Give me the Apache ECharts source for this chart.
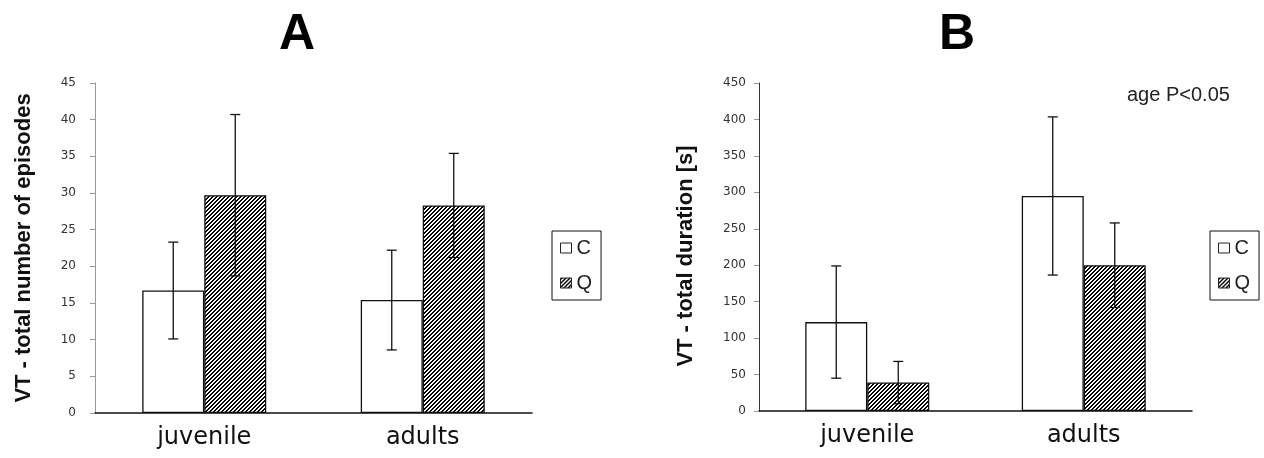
<!DOCTYPE html>
<html><head><meta charset="utf-8">
<script src="https://cdn.jsdelivr.net/npm/echarts@6/dist/echarts.min.js"></script>
<style>html,body{margin:0;padding:0;background:#fff}#c{width:1264px;height:458px}</style>
</head><body><div id="c"></div>
<script>
// ---- data ----
const categories = ['juvenile', 'adults'];
const seriesNames = ['C', 'Q'];
// Panel A: VT - total number of episodes
const episodesC = [16.7, 15.4];
const episodesCErr = [6.6, 6.8];
const episodesQ = [29.7, 28.3];
const episodesQErr = [11.0, 7.1];
// Panel B: VT - total duration [s]
const durationC = [122, 295];
const durationCErr = [77, 108.5];
const durationQ = [39, 200];
const durationQErr = [29, 58];
const ticksA = {min: 0, max: 45, interval: 5};
const ticksB = {min: 0, max: 450, interval: 50};

function hatch(period, black) {
  const c = document.createElement('canvas');
  c.width = period; c.height = period;
  const ctx = c.getContext('2d');
  ctx.fillStyle = '#fff'; ctx.fillRect(0, 0, period, period);
  ctx.fillStyle = '#000';
  for (let y = 0; y < period; y++)
    for (let x = 0; x < period; x++)
      if (((x + y) % period) < black) ctx.fillRect(x, y, 1, 1);
  return c;
}
const patA = {image: hatch(4, 2), repeat: 'repeat'};
const patB = {image: hatch(4, 2), repeat: 'repeat'};

const BAR_W = 62;
function errData(vals, errs) {
  return vals.map((v, i) => [i, v - errs[i], v + errs[i]]);
}
function errRender(sign) {
  return function (params, api) {
    const i = api.value(0), lo = api.value(1), hi = api.value(2);
    const pLo = api.coord([i, lo]), pHi = api.coord([i, hi]);
    const x = pLo[0] + sign * BAR_W / 2;
    const w = 5;
    const style = {stroke: '#111', lineWidth: 1.3};
    return {type: 'group', children: [
      {type: 'line', shape: {x1: x, y1: pHi[1], x2: x, y2: pLo[1]}, style},
      {type: 'line', shape: {x1: x - w, y1: pHi[1], x2: x + w, y2: pHi[1]}, style},
      {type: 'line', shape: {x1: x - w, y1: pLo[1], x2: x + w, y2: pLo[1]}, style}
    ]};
  };
}

function xAxis(gi) {
  return {
    type: 'category', gridIndex: gi, data: categories,
    axisLine: {lineStyle: {color: '#111', width: 1.5}},
    axisTick: {show: false},
    axisLabel: {fontSize: 24, fontFamily: 'DejaVu Sans', color: '#111', margin: 13}
  };
}
function yAxis(gi, t, name, gap, margin, lineColor, namePad) {
  return {
    type: 'value', gridIndex: gi, min: t.min, max: t.max, interval: t.interval,
    name: name, nameLocation: 'middle', nameGap: gap,
    nameTextStyle: {fontSize: 22, fontWeight: 'bold', fontFamily: 'Liberation Sans', color: '#111', padding: namePad},
    axisLine: {show: true, lineStyle: {color: lineColor, width: 1}},
    axisTick: {show: true, length: 5, lineStyle: {color: '#999'}},
    splitLine: {show: false},
    axisLabel: {fontSize: 12, fontFamily: 'DejaVu Sans', color: '#333', margin: margin}
  };
}
function legend(left) {
  return {
    data: seriesNames, orient: 'vertical', left: left, top: 231,
    padding: [7, 9, 7, 8], itemGap: 15, itemWidth: 11, itemHeight: 10,
    borderColor: '#111', borderWidth: 1, icon: 'rect', selectedMode: false,
    itemStyle: {borderWidth: 1, borderColor: '#222'},
    textStyle: {fontSize: 20, fontFamily: 'Liberation Sans', color: '#222'}
  };
}

const barBase = {type: 'bar', barWidth: BAR_W, barGap: '0%'};
const option = {
  animation: false,
  backgroundColor: '#fff',
  grid: [
    {left: 95, top: 83, width: 437, height: 330},
    {left: 759, top: 83, width: 433, height: 328}
  ],
  xAxis: [xAxis(0), xAxis(1)],
  yAxis: [
    yAxis(0, ticksA, 'VT - total number of episodes', 60, 19, '#999', [0, 0, 0, 0]),
    yAxis(1, ticksB, 'VT - total duration [s]', 62, 13, '#333', [0, 18, 0, 0])
  ],
  legend: [legend(552), legend(1210)],
  graphic: [
    {type: 'text', x: 297, y: 35, style: {text: 'A', font: 'bold 50px "Liberation Sans"', fill: '#000', textAlign: 'center', textVerticalAlign: 'middle'}},
    {type: 'text', x: 957, y: 35, style: {text: 'B', font: 'bold 50px "Liberation Sans"', fill: '#000', textAlign: 'center', textVerticalAlign: 'middle'}},
    {type: 'text', x: 1127, y: 95, style: {text: 'age P<0.05', font: '20px "Liberation Sans"', fill: '#222', textAlign: 'left', textVerticalAlign: 'middle'}}
  ],
  series: [
    Object.assign({}, barBase, {name: 'C', xAxisIndex: 0, yAxisIndex: 0, data: episodesC,
      itemStyle: {color: '#fff', borderColor: '#111', borderWidth: 1.3}}),
    Object.assign({}, barBase, {name: 'Q', xAxisIndex: 0, yAxisIndex: 0, data: episodesQ,
      itemStyle: {color: patA, borderColor: '#111', borderWidth: 1.3}}),
    Object.assign({}, barBase, {name: 'C', xAxisIndex: 1, yAxisIndex: 1, data: durationC,
      itemStyle: {color: '#fff', borderColor: '#111', borderWidth: 1.3}}),
    Object.assign({}, barBase, {name: 'Q', xAxisIndex: 1, yAxisIndex: 1, data: durationQ,
      itemStyle: {color: patB, borderColor: '#111', borderWidth: 1.3}}),
    {type: 'custom', xAxisIndex: 0, yAxisIndex: 0, z: 5, renderItem: errRender(-1), data: errData(episodesC, episodesCErr), encode: {x: 0, y: [1, 2]}},
    {type: 'custom', xAxisIndex: 0, yAxisIndex: 0, z: 5, renderItem: errRender(1), data: errData(episodesQ, episodesQErr), encode: {x: 0, y: [1, 2]}},
    {type: 'custom', xAxisIndex: 1, yAxisIndex: 1, z: 5, renderItem: errRender(-1), data: errData(durationC, durationCErr), encode: {x: 0, y: [1, 2]}},
    {type: 'custom', xAxisIndex: 1, yAxisIndex: 1, z: 5, renderItem: errRender(1), data: errData(durationQ, durationQErr), encode: {x: 0, y: [1, 2]}}
  ]
};
const chart = echarts.init(document.getElementById('c'), null, {renderer: 'canvas'});
chart.setOption(option);
</script>
</body></html>
